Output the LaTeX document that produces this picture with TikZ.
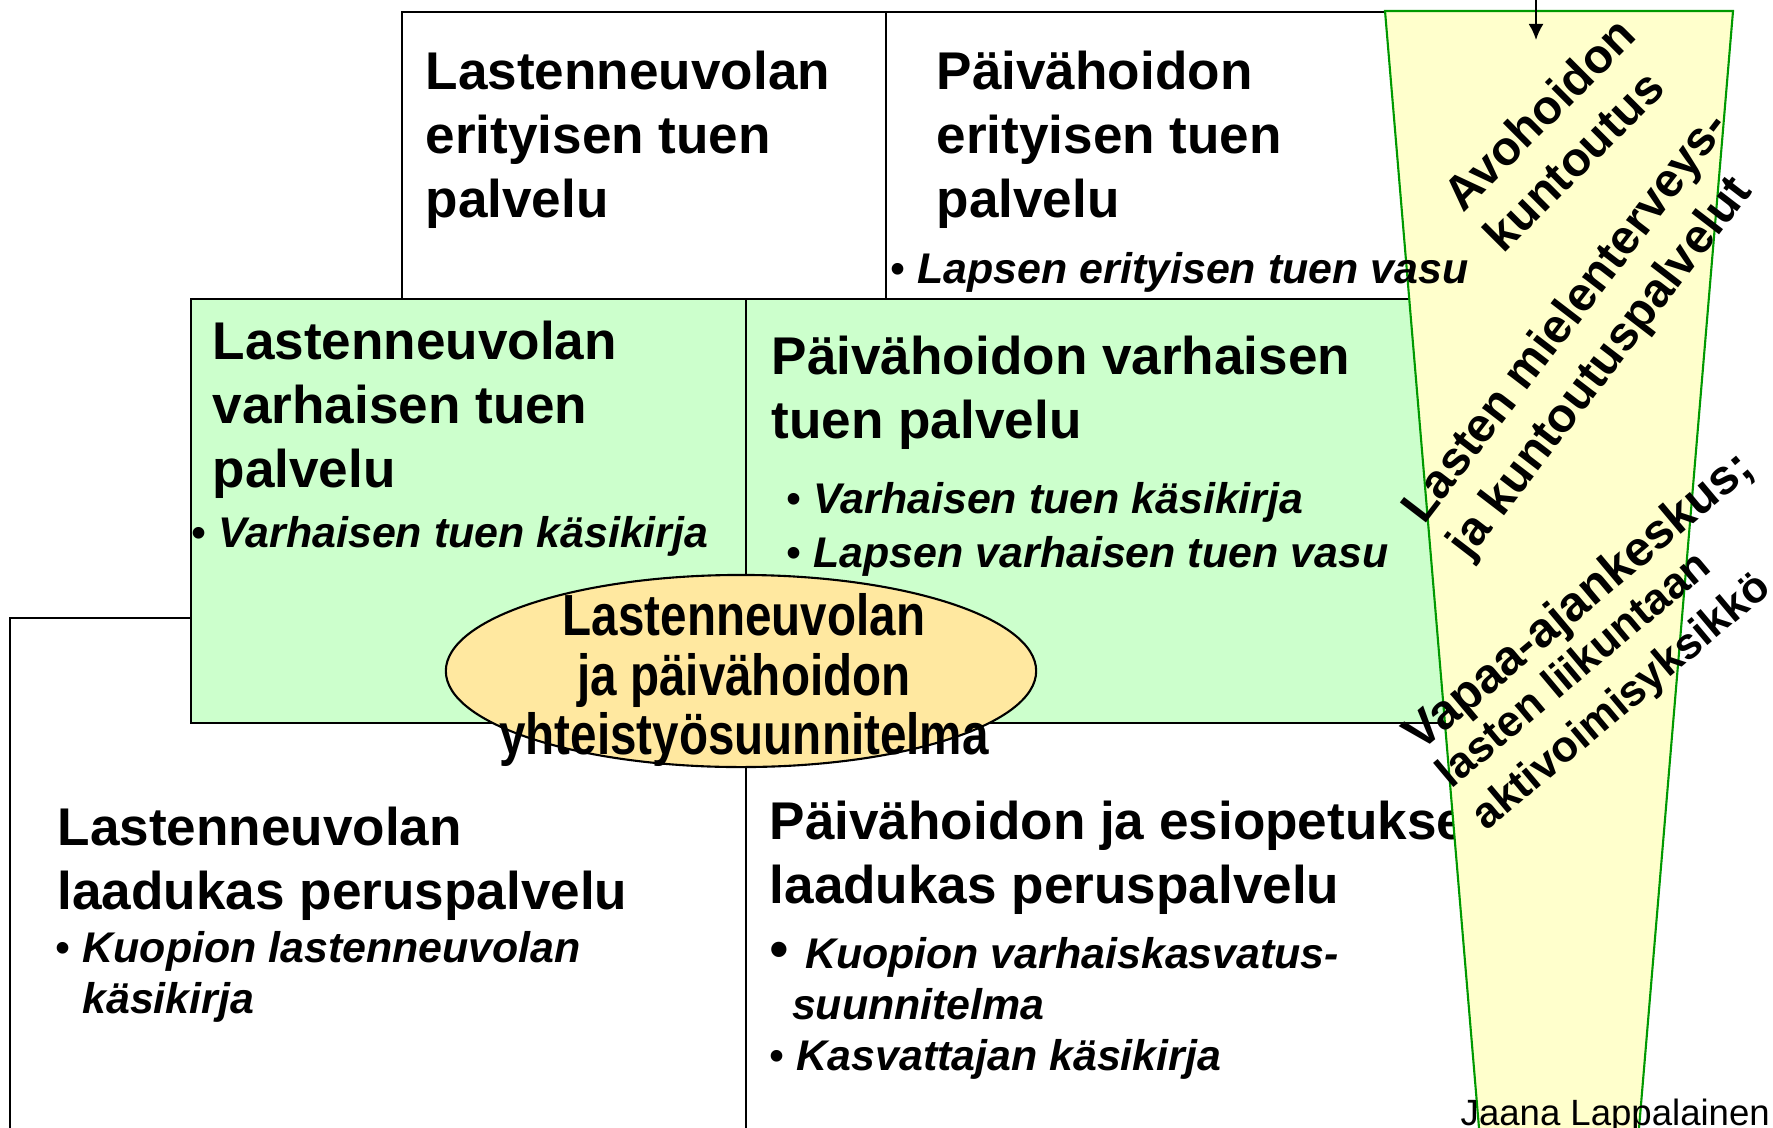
\documentclass[tikz,border=0pt]{standalone}
\usepackage{fontspec}
\setmainfont{Liberation Sans}
\newfontfamily\plannarrow[FakeStretch=0.82]{Liberation Sans}
\usetikzlibrary{shapes.geometric,arrows.meta}
\definecolor{boxGreen}{HTML}{CCFFCC}
\definecolor{funnelYellow}{HTML}{FFFFCC}
\definecolor{funnelGreen}{HTML}{009900}
\definecolor{planOrange}{HTML}{FFE8A0}
\newcommand{\bulletmark}{{\upshape\mdseries\textbullet}\ }

\begin{document}
\begin{tikzpicture}[x=0.01cm, y=-0.01cm,
    plainbox/.style={draw=black, fill=white, line width=0.6pt,
                     anchor=north west, inner sep=0pt},
    greenbox/.style={plainbox, fill=boxGreen},
    headtxt/.style={anchor=base west, inner sep=0pt, align=left,
                    font=\fontsize{15.1}{18.1}\selectfont\bfseries},
    bullettxt/.style={anchor=base west, inner sep=0pt, align=left,
                      font=\fontsize{12.2}{14.5}\selectfont\bfseries\itshape},
    funneltxt/.style={inner sep=0pt, align=left,
                      font=\fontsize{13.6}{16.4}\selectfont\bfseries},
    plan/.style={ellipse, draw=black, fill=planOrange, line width=0.6pt,
                 inner sep=0pt, minimum width=5.9cm, minimum height=1.92cm},
    arr/.style={-{Latex[length=0.16cm,width=0.15cm]}, line width=0.6pt}
  ]
  \useasboundingbox (0,0) rectangle (1773,1127);

  % perustaso ja erityisen tuen taso
  \node[plainbox, minimum width=7.36cm, minimum height=5.3cm] (baseLN) at (9,617) {};
  \node[plainbox, minimum width=7.55cm, minimum height=4.5cm] (basePH) at (745,700) {};
  \node[plainbox, minimum width=4.84cm, minimum height=2.87cm] (erLN) at (401,11) {};
  \node[plainbox, minimum width=5.45cm, minimum height=2.87cm] (erPH) at (885,11) {};
  % varhaisen tuen taso
  \node[greenbox, minimum width=5.55cm, minimum height=4.24cm] (vaLN) at (190,298) {};
  \node[greenbox, minimum width=7.05cm, minimum height=4.24cm] (vaPH) at (745,298) {};

  \node[headtxt] (erLNt) at (425,217) {Lastenneuvolan\\erityisen tuen\\palvelu};
  \node[headtxt] (erPHt) at (936,217) {Päivähoidon\\erityisen tuen\\palvelu};
  \node[headtxt] (vaLNt) at (212,487) {Lastenneuvolan\\varhaisen tuen\\palvelu};
  \node[bullettxt] (vaLNb) at (191,547) {\bulletmark Varhaisen tuen käsikirja};
  \node[headtxt] (vaPHt) at (771,438) {Päivähoidon varhaisen\\tuen palvelu};
  \node[bullettxt] (vaPHb) at (786,567) {\bulletmark Varhaisen tuen käsikirja\\[0.6pt]\bulletmark Lapsen varhaisen tuen vasu};
  \node[headtxt] (baseLNt) at (57,909) {Lastenneuvolan\\laadukas peruspalvelu};
  \node[bullettxt] (baseLNb) at (55,1013) {\bulletmark Kuopion lastenneuvolan\\\hspace*{0.62em}käsikirja};
  \node[headtxt] (basePHt) at (769,903) {Päivähoidon ja esiopetuksen\\laadukas peruspalvelu};
  \node[bullettxt] (basePHb) at (769,1070) {{\fontsize{16}{14.5}\selectfont\bulletmark}Kuopion varhaiskasvatus-\\\hspace*{0.52em}suunnitelma\\\bulletmark Kasvattajan käsikirja};

  % yhteistyösuunnitelma
  \node[plan] (plan) at (741,671) {};
  \node[inner sep=0pt, align=center,
        font=\plannarrow\fontsize{16.5}{16.8}\selectfont\bfseries] (planTxt) at (744,680)
        {Lastenneuvolan\\ja päivähoidon\\yhteistyösuunnitelma};

  % erityispalvelujen suppilo
  \draw[draw=funnelGreen, fill=funnelYellow, line width=0.6pt]
    (1385,11) -- (1733,11) -- (1638,1140) -- (1480,1140) -- cycle;
  \node[bullettxt] (erPHb) at (890,283) {\bulletmark Lapsen erityisen tuen vasu};

  \node[funneltxt, rotate=45] (avo) at (1559,134) {Avohoidon\\kuntoutus};
  \node[funneltxt, rotate=52.5] (mieli) at (1590,336) {Lasten mielenterveys-\\ja kuntoutuspalvelut};
  \node[funneltxt, rotate=40, anchor=base west,
        font=\fontsize{12.4}{15.6}\selectfont\bfseries] (vapaa) at (1486,832)
        {{\fontsize{13.9}{15.6}\selectfont Vapaa-ajankeskus;}\\[-2pt]lasten liikuntaan\\aktivoimisyksikkö};

  \coordinate (feed) at (1536,-10);
  \coordinate (avoTop) at (1536,40);
  \draw[arr] (feed) -- (avoTop);

  \node[anchor=base west, inner sep=0pt, font=\fontsize{10.4}{12}\selectfont] (author)
    at (1460,1125) {Jaana Lappalainen};
\end{tikzpicture}
\end{document}
